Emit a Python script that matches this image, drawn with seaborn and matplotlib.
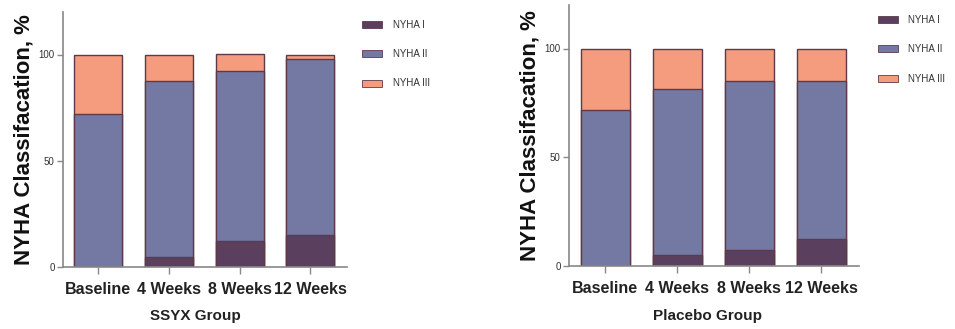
import matplotlib
matplotlib.use("Agg")
import matplotlib.pyplot as plt
import matplotlib.patches as mpatches
import numpy as np
import pandas as pd
import seaborn as sns

# Visit labels
timepoints = ["Baseline", "4 Weeks", "8 Weeks", "12 Weeks"]
classes = ["NYHA I", "NYHA II", "NYHA III"]

# Share of patients in each NYHA class, %
ssyx_nyha1 = [0.0, 4.5, 12.2, 14.9]
ssyx_nyha2 = [71.8, 83.1, 79.9, 83.1]
ssyx_nyha3 = [28.2, 12.4, 7.9, 2.0]

placebo_nyha1 = [0.0, 4.9, 7.5, 12.4]
placebo_nyha2 = [71.9, 76.5, 77.7, 72.8]
placebo_nyha3 = [28.1, 18.6, 14.8, 14.8]

group_titles = ["SSYX Group", "Placebo Group"]
yticks = [0, 50, 100]

colors = {"NYHA I": "#5b3f5f", "NYHA II": "#7479a4", "NYHA III": "#f59c7e"}
edge = "#5e3a48"

sns.set_theme(style="white")
plt.rcParams["font.family"] = ["Liberation Sans", "DejaVu Sans"]

fig = plt.figure(figsize=(9.55, 3.29), dpi=100)
ax_pos = [
    [63 / 955, 1 - 267 / 329, (347 - 63) / 955, (267 - 12) / 329],
    [569 / 955, 1 - 266 / 329, (859 - 569) / 955, (266 - 5) / 329],
]
legend_anchor = [(0.370, 0.967), (0.910, 0.982)]
title_x = [195 / 955, 707 / 955]

groups = [
    (ssyx_nyha1, ssyx_nyha2, ssyx_nyha3),
    (placebo_nyha1, placebo_nyha2, placebo_nyha3),
]

for gi, (n1, n2, n3) in enumerate(groups):
    ax = fig.add_axes(ax_pos[gi])
    df = pd.DataFrame({"visit": timepoints, "NYHA I": n1, "NYHA II": n2, "NYHA III": n3})
    df["c1"] = df["NYHA I"]
    df["c2"] = df["c1"] + df["NYHA II"]
    df["c3"] = df["c2"] + df["NYHA III"]
    # stacked bars: draw cumulative totals from the top layer down
    for col, cls in [("c3", "NYHA III"), ("c2", "NYHA II"), ("c1", "NYHA I")]:
        sns.barplot(data=df, x="visit", y=col, order=timepoints, color=colors[cls],
                    saturation=1, width=0.68, edgecolor=edge, linewidth=1.0, ax=ax)
    ax.set_xlim(-0.5, 3.52)
    ax.set_ylim(0, 120)
    ax.set_yticks(yticks)
    ax.set_yticklabels([str(t) for t in yticks], fontsize=7, color="#333333")
    ax.set_xticks(range(len(timepoints)))
    ax.set_xticklabels(timepoints, fontsize=11.5, fontweight="bold", color="#222222")
    ax.tick_params(axis="x", bottom=True, length=5, width=1, color="#888888", pad=6)
    ax.tick_params(axis="y", left=True, length=4, width=1, color="#888888", pad=2)
    ax.set_xlabel("")
    ax.set_ylabel("NYHA Classifacation, %", fontsize=16, fontweight="bold",
                  color="#111111", labelpad=3)
    for side in ["top", "right"]:
        ax.spines[side].set_visible(False)
    for side in ["left", "bottom"]:
        ax.spines[side].set_color("#888888")
        ax.spines[side].set_linewidth(1.2)
    handles = [mpatches.Patch(facecolor=colors[c], edgecolor=edge, linewidth=0.6, label=c)
               for c in classes]
    fig.legend(handles=handles, loc="upper left", bbox_to_anchor=legend_anchor[gi],
               frameon=False, fontsize=7, handlelength=2.05, handleheight=0.75,
               labelspacing=2.0, handletextpad=1.1, labelcolor="#333333")
    fig.text(title_x[gi], 1 - 316 / 329, group_titles[gi], ha="center", va="center",
             fontsize=11, fontweight="bold", color="#222222")

fig.savefig("out.png", dpi=100)
